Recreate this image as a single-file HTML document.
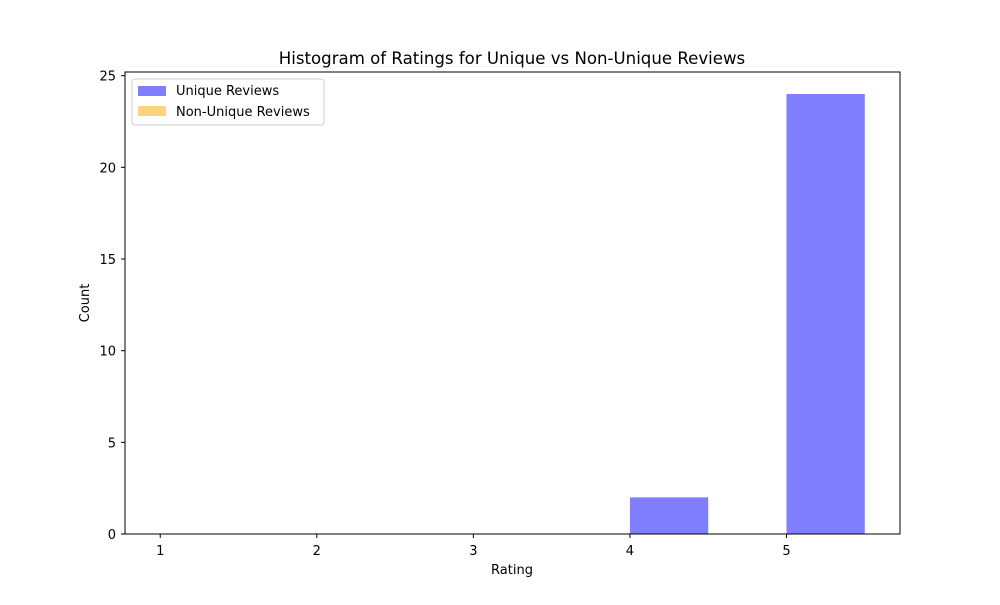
<!DOCTYPE html>
<html><head><meta charset="utf-8"><style>
body{margin:0;background:#fff;font-family:"Liberation Sans","DejaVu Sans",sans-serif;}
</style></head><body>
<svg id="chart" width="1000" height="600" xmlns="http://www.w3.org/2000/svg" font-family="DejaVu Sans, Liberation Sans, sans-serif">
<rect width="1000" height="600" fill="#fff"/>
<text x="512" y="64" text-anchor="middle" font-size="16.6">Histogram of Ratings for Unique vs Non-Unique Reviews</text>
<g id="bars"></g>
<g id="xt"></g><g id="yt"></g>
<rect x="125" y="72" width="775" height="462" fill="none" stroke="#000" stroke-width="1"/>
<text x="512" y="574" text-anchor="middle" font-size="13">Rating</text>
<text x="89" y="303" text-anchor="middle" font-size="13" transform="rotate(-90 89 303)">Count</text>
<g>
<rect x="132" y="79" width="192" height="46" fill="#fff" stroke="#ccc" rx="3"/>
<g><rect x="138" y="86" width="28" height="10" fill="#0000ff" fill-opacity="0.5"/><text x="176" y="95" font-size="13">Unique Reviews</text></g>
<g><rect x="138" y="106" width="28" height="10" fill="#ffa500" fill-opacity="0.5"/><text x="176" y="116" font-size="13">Non-Unique Reviews</text></g>
</g>
</svg>
<script>
const binEdges=[1,1.5,2,2.5,3,3.5,4,4.5,5,5.5];
const uniqueCounts=[0,0,0,0,0,0,2,0,24];
const nonUniqueCounts=[0,0,0,0,0,0,0,0,0];
const xTicks=[1,2,3,4,5];
const yTicks=[0,5,10,15,20,25];
const ns="http://www.w3.org/2000/svg";
const X0=125,X1=900,Y0=534,Y1=72,xmin=0.775,xmax=5.725,ymin=0,ymax=25.2;
const sx=v=>X0+(v-xmin)/(xmax-xmin)*(X1-X0);
const sy=v=>Y0-(v-ymin)/(ymax-ymin)*(Y0-Y1);
const bars=document.getElementById('bars');
function drawSeries(counts,color,name){
 counts.forEach((c,i)=>{
  if(c<=0)return;
  const r=document.createElementNS(ns,'rect');
  const a=sx(binEdges[i]),b=sx(binEdges[i+1]);
  r.setAttribute('x',a);r.setAttribute('width',b-a);
  r.setAttribute('y',sy(c));r.setAttribute('height',sy(0)-sy(c));
  r.setAttribute('fill',color);r.setAttribute('fill-opacity','0.5');
  
  
  bars.appendChild(r);
 });
}
drawSeries(uniqueCounts,'#0000ff','unique');
drawSeries(nonUniqueCounts,'#ffa500','non-unique');
const xt=document.getElementById('xt');
xTicks.forEach(t=>{
 const x=sx(t);
 const l=document.createElementNS(ns,'line');
 l.setAttribute('x1',x);l.setAttribute('x2',x);l.setAttribute('y1',534);l.setAttribute('y2',538);l.setAttribute('stroke','#000');
 
 
 xt.appendChild(l);
 const s=document.createElementNS(ns,'text');
 s.setAttribute('x',x);s.setAttribute('y',555);s.setAttribute('text-anchor','middle');s.setAttribute('font-size','13');
 s.textContent=t;
 
 
 xt.appendChild(s);
});
const yt=document.getElementById('yt');
yTicks.forEach(t=>{
 const y=sy(t);
 const l=document.createElementNS(ns,'line');
 l.setAttribute('x1',121);l.setAttribute('x2',125);l.setAttribute('y1',y);l.setAttribute('y2',y);l.setAttribute('stroke','#000');
 
 
 yt.appendChild(l);
 const s=document.createElementNS(ns,'text');
 s.setAttribute('x',116);s.setAttribute('y',y+5);s.setAttribute('text-anchor','end');s.setAttribute('font-size','13');
 s.textContent=t;
 
 
 yt.appendChild(s);
});
</script>
</body></html>
